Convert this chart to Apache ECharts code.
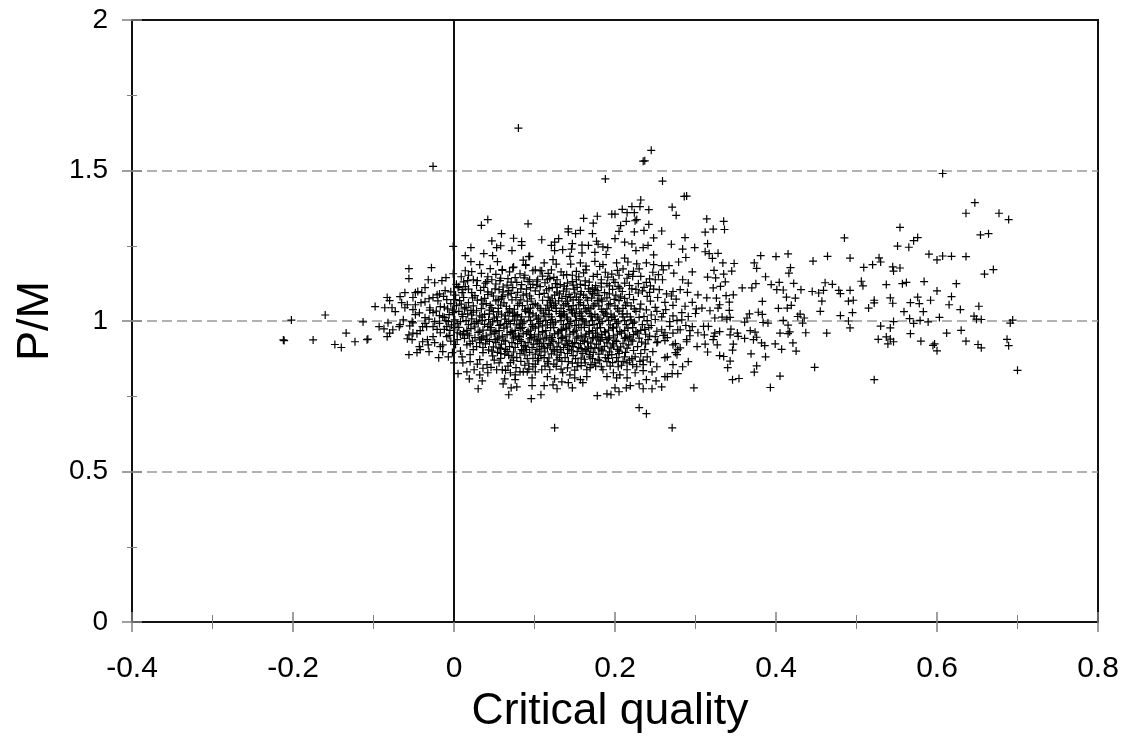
<!DOCTYPE html>
<html>
<head>
<meta charset="utf-8">
<title>P/M vs critical quality</title>
<script src="https://cdn.jsdelivr.net/npm/echarts@6/dist/echarts.min.js"></script>
<style>
    html, body {margin: 0; padding: 0; background: #fff;}
    #chart {width: 1122px; height: 742px;}
</style>
</head>
<body>
<div id="chart"></div>
<script>
// values: [critical quality, P/M]
const leftWing = [[-.212,.937],[-.211,.935],[-.202,1.003],[-.175,.937],[-.16,1.02],[-.148,.922],[-.14,.912],[-.134,.96],[-.123,.931],[-.113,.997],[-.108,.938],[-.107,.94],[-.098,1.048],[-.093,.981],[-.087,.974],[-.086,1.044],[-.083,1.078],[-.083,.948],[-.082,.994],[-.08,1.068],[-.08,.96],[-.077,1.044],[-.076,.971],[-.073,1.031],[-.068,.981],[-.067,1.081],[-.067,.988],[-.065,1.061],[-.063,1.004],[-.061,1.094],[-.061,1.044],[-.058,1.054],[-.058,.941],[-.056,1.174],[-.056,1.141],[-.056,.954],[-.056,.888],[-.055,.984],[-.052,.998],[-.052,.938],[-.051,1.078],[-.051,1.038],[-.051,.994],[-.051,.96],[-.048,1.094],[-.048,1.054],[-.048,1.021],[-.046,.958],[-.046,.895],[-.045,1.098],[-.043,.915],[-.042,.905],[-.04,1.094],[-.039,.981],[-.039,.931],[-.036,1.111],[-.036,1.064],[-.036,1.011],[-.034,.981],[-.032,1.137],[-.032,.921],[-.031,.898],[-.03,1.044],[-.028,1.177],[-.026,1.514],[-.026,1.078],[-.026,1.028],[-.026,.981],[-.026,.948],[-.024,1.127],[-.024,.998],[-.024,.928],[-.021,1.087],[-.019,.878],[-.017,1.048],[-.017,.961],[-.017,.915],[-.015,1.134],[-.014,1.014],[-.014,.921],[-.014,.898],[-.011,1.101],[-.01,1.144],[-.009,1.071],[-.009,.981],[-.009,.948],[-.007,.998],[-.007,.881],[-.002,.895],[-.001,1.248],[-.001,1.157],[-.001,1.028],[.001,1.071],[0,.861],[.004,.961],[.004,.938],[.005,.825]];
const lowerEdge = [[.125,.645],[.271,.645],[.23,.712],[.239,.692],[.03,.775],[.068,.755],[.096,.742],[.108,.755],[.178,.752],[.19,.758],[.195,.755],[.298,.778],[.246,.775],[.235,.775],[.258,.781],[.23,.791],[.219,.785],[.214,.778],[.2,.778],[.205,.765],[.202,.811],[.215,.811],[.239,.805],[.251,.801],[.265,.815],[.19,.815],[.198,.828],[.165,.815],[.16,.795],[.147,.778],[.128,.775],[.123,.788],[.112,.785],[.097,.785],[.078,.781],[.071,.778],[.061,.791],[.142,.795],[.134,.798],[.125,.808],[.15,.811],[.157,.805],[.097,.811],[.076,.805],[.063,.808],[.035,.801],[.019,.808],[.032,.821],[.011,.861],[.02,.865],[.016,.831],[.025,.838],[.042,.828],[.041,.855],[.053,.838],[.076,.821],[.082,.831],[.07,.828],[.091,.831],[.101,.831],[.116,.815],[.278,.825],[.271,.825],[.262,.815],[.252,.848],[.246,.831],[.235,.835],[.225,.828],[.215,.838],[.206,.821],[.185,.838],[.165,.838],[.154,.861],[.144,.821],[.135,.828],[.119,.838],[.109,.838],[.098,.848],[.086,.831],[.06,.838],[.222,.855],[.235,.855],[.272,.855],[.291,.865],[.284,.848],[.262,.878],[.281,.911],[.275,.895],[.289,.931],[.293,.951],[.302,.915],[.275,.925],[.247,.898],[.252,.928],[.24,.881],[.215,.861],[.202,.878],[.19,.865],[.179,.871],[.169,.881],[.142,.865],[.128,.871],[.116,.865],[.278,.905],[.277,.888],[.272,.921],[.289,.938],[.303,.961],[.296,.981],[.278,.971],[.268,.998],[.262,.961],[.265,.945],[.253,.931],[.258,.971],[.25,.948],[.241,.938],[.237,.905],[.225,.881],[.265,.881],[.212,.881],[.175,.861],[.163,.861],[.153,.848],[.204,.848],[.281,.971],[.032,.928],[.036,.895],[.02,.888],[.01,.881],[.011,.954],[.016,.921]];
const upperEdge = [[.08,1.641],[.245,1.567],[.235,1.531],[.237,1.532],[.188,1.472],[.259,1.465],[.286,1.414],[.289,1.415],[.232,1.402],[.271,1.378],[.276,1.351],[.221,1.38],[.231,1.38],[.209,1.371],[.215,1.36],[.224,1.36],[.242,1.37],[.161,1.341],[.178,1.348],[.196,1.355],[.2,1.355],[.173,1.325],[.092,1.323],[.214,1.331],[.225,1.333],[.227,1.337],[.207,1.317],[.242,1.321],[.142,1.306],[.142,1.296],[.157,1.301],[.151,1.29],[.172,1.29],[.205,1.298],[.224,1.296],[.236,1.301],[.258,1.299],[.059,1.29],[.074,1.275],[.084,1.264],[.084,1.251],[.072,1.234],[.109,1.27],[.13,1.274],[.125,1.262],[.121,1.251],[.125,1.234],[.135,1.237],[.146,1.239],[.147,1.257],[.159,1.252],[.167,1.251],[.177,1.265],[.179,1.255],[.185,1.246],[.191,1.244],[.2,1.274],[.212,1.262],[.221,1.256],[.248,1.276],[.287,1.277],[.27,1.255],[.284,1.239],[.299,1.244],[.241,1.251],[.235,1.244],[.226,1.234],[.248,1.22],[.288,1.211],[.279,1.196],[.296,1.163],[.159,1.226],[.175,1.228],[.189,1.221],[.212,1.209],[.144,1.215],[.094,1.215],[.086,1.202],[.112,1.193],[.123,1.204],[.127,1.189],[.145,1.189],[.157,1.193],[.164,1.182],[.175,1.198],[.185,1.187],[.202,1.193],[.216,1.196],[.227,1.19],[.239,1.193],[.248,1.187],[.258,1.184],[.267,1.184],[.089,1.185],[.074,1.179],[.06,1.168],[.101,1.17],[.109,1.167],[.121,1.17],[.136,1.152],[.152,1.165],[.164,1.17],[.181,1.181],[.196,1.156],[.21,1.173],[.223,1.165],[.23,1.173],[.247,1.162],[.26,1.17],[.273,1.159],[.284,1.137],[.291,1.126],[.254,1.154],[.259,1.137],[.25,1.137],[.239,1.128],[.229,1.124],[.205,1.152],[.183,1.137],[.198,1.137],[.212,1.126],[.204,1.115],[.272,1.098],[.281,1.104],[.29,1.095],[.303,1.087],[.255,1.104],[.243,1.095],[.276,1.073],[.262,1.062],[.229,1.093],[.296,1.062],[.287,1.049],[.301,1.04],[.252,1.032],[.236,1.015],[.291,1.015],[.277,1.002],[.283,1.004],[.239,1.037],[.223,1.071],[.042,1.337],[.034,1.318],[.021,1.244],[.047,1.266],[.053,1.244],[.058,1.25],[.037,1.224],[.048,1.217],[.014,1.217],[.054,1.197],[.021,1.197],[.032,1.187],[.045,1.174],[.06,1.171],[.073,1.177],[.093,1.214],[.089,1.187],[.014,1.167],[.022,1.164],[.009,1.147],[.042,1.147],[.017,1.134],[.029,1.134],[.041,1.131],[.047,1.137],[.057,1.134],[.067,1.141],[.076,1.144],[.094,1.137],[.104,1.137],[.116,1.137],[.128,1.137],[.14,1.154],[.098,1.167],[.107,1.167],[.082,1.157],[.006,1.114],[.011,1.104],[.005,1.111],[.014,1.114],[.01,1.094],[.022,1.094],[.042,1.097],[.051,1.107],[.061,1.097],[.073,1.111],[.084,1.121],[.092,1.131],[.107,1.114],[.122,1.111],[.132,1.121],[.14,1.107]];
const rightWing = [[.607,1.49],[.647,1.393],[.636,1.358],[.677,1.358],[.689,1.337],[.654,1.286],[.664,1.29],[.659,1.156],[.67,1.171],[.554,1.311],[.576,1.277],[.571,1.267],[.551,1.249],[.565,1.245],[.485,1.276],[.59,1.222],[.6,1.203],[.607,1.216],[.618,1.215],[.636,1.214],[.528,1.21],[.53,1.196],[.52,1.187],[.509,1.178],[.545,1.18],[.554,1.176],[.546,1.166],[.492,1.209],[.464,1.215],[.446,1.199],[.415,1.223],[.4,1.214],[.381,1.217],[.373,1.193],[.376,1.175],[.418,1.177],[.416,1.159],[.387,1.147],[.314,1.339],[.335,1.331],[.312,1.295],[.322,1.305],[.336,1.304],[.315,1.257],[.312,1.23],[.317,1.224],[.328,1.225],[.321,1.208],[.334,1.193],[.348,1.191],[.323,1.168],[.345,1.166],[.335,1.156],[.315,1.146],[.325,1.143],[.337,1.13],[.331,1.115],[.322,1.11],[.358,1.11],[.37,1.11],[.375,1.124],[.394,1.121],[.404,1.128],[.401,1.104],[.409,1.103],[.422,1.125],[.431,1.104],[.445,1.098],[.453,1.093],[.459,1.102],[.461,1.127],[.47,1.122],[.478,1.102],[.48,1.091],[.492,1.102],[.506,1.132],[.508,1.117],[.537,1.121],[.557,1.124],[.562,1.128],[.584,1.131],[.624,1.124],[.6,1.1],[.618,1.081],[.615,1.054],[.629,1.038],[.592,1.069],[.576,1.079],[.567,1.061],[.578,1.058],[.542,1.077],[.545,1.059],[.522,1.069],[.522,1.06],[.515,1.043],[.559,1.031],[.583,1.031],[.495,1.028],[.48,1.018],[.455,1.032],[.457,1.066],[.49,1.066],[.496,1.069],[.413,1.079],[.424,1.076],[.383,1.065],[.403,1.042],[.414,1.043],[.419,1.052],[.347,1.087],[.338,1.084],[.326,1.076],[.314,1.077],[.342,1.063],[.33,1.054],[.328,1.043],[.318,1.034],[.342,1.035],[.308,1.043],[.367,1.024],[.378,1.029],[.383,1.022],[.364,1.01],[.361,.996],[.333,1.013],[.324,1.01],[.339,1.006],[.343,1.012],[.409,1.002],[.384,.995],[.39,.993],[.43,1.023],[.427,1.015],[.435,1.01],[.433,.993],[.415,.986],[.49,1],[.492,.977],[.53,.983],[.542,.977],[.546,.998],[.566,1.008],[.571,.992],[.579,1.002],[.589,.997],[.603,1.012],[.646,1.016],[.649,1.006],[.655,1.005],[.652,1.049],[.694,1.003],[.691,.993],[.567,.958],[.58,.933],[.612,.96],[.63,.969],[.636,.933],[.597,.924],[.595,.919],[.6,.901],[.651,.922],[.655,.911],[.687,.939],[.689,.918],[.7,.836],[.527,.939],[.537,.947],[.542,.94],[.546,.931],[.539,.924],[.522,.805],[.463,.96],[.448,.846],[.437,.961],[.417,.964],[.405,.96],[.415,.958],[.421,.927],[.425,.9],[.399,.924],[.407,.906],[.387,.881],[.386,.918],[.382,.927],[.369,.891],[.376,.851],[.373,.83],[.405,.817],[.393,.779],[.354,.809],[.346,.805],[.34,.845],[.343,.867],[.33,.885],[.335,.882],[.346,.903],[.347,.923],[.327,.921],[.312,.923],[.315,.897],[.322,.938],[.324,.96],[.33,.965],[.343,.954],[.344,.973],[.352,.96],[.353,.949],[.361,.942],[.368,.968],[.374,.963],[.376,.946],[.372,.938],[.31,.982],[.316,.982],[.311,.954],[.323,.949]];
const denseCore = [
[.003,1.122],[.028,1.118],[.039,1.126],[.066,1.119],[.078,1.128],[.098,1.122],[.113,1.127],[.126,1.124],[.147,1.131],[.157,1.122],[.168,1.129],[.176,1.118],[.19,1.124],[.218,1.118],[.236,1.112],
[-.018,1.09],[-.004,1.097],[.018,1.106],[.033,1.102],[.047,1.093],[.056,1.104],[.068,1.101],[.079,1.095],[.09,1.106],[.101,1.1],[.115,1.103],[.128,1.096],[.136,1.099],[.149,1.106],[.158,1.098],[.167,1.107],[.178,1.101],[.187,1.094],[.197,1.105],[.209,1.098],[.221,1.107],[.234,1.1],[.248,1.106],[.264,1.09],
[-.031,1.074],[-.013,1.082],[.002,1.086],[.012,1.078],[.026,1.084],[.038,1.075],[.049,1.083],[.059,1.076],[.067,1.087],[.077,1.078],[.086,1.086],[.096,1.074],[.106,1.088],[.117,1.079],[.125,1.086],[.134,1.075],[.143,1.088],[.152,1.079],[.161,1.086],[.171,1.076],[.18,1.085],[.19,1.077],[.201,1.086],[.212,1.075],[.24,1.082],[.253,1.078],[.27,1.083],
[-.041,1.061],[-.02,1.067],[-.004,1.058],[.007,1.068],[.018,1.061],[.029,1.069],[.04,1.058],[.052,1.067],[.062,1.06],[.072,1.07],[.081,1.059],[.091,1.066],[.101,1.057],[.11,1.069],[.12,1.06],[.13,1.067],[.139,1.058],[.148,1.07],[.157,1.061],[.166,1.069],[.175,1.057],[.184,1.066],[.194,1.058],[.205,1.068],[.215,1.06],[.232,1.056],[.244,1.066],[.272,1.052],
[-.03,1.036],[-.012,1.046],[.003,1.051],[.013,1.04],[.024,1.05],[.034,1.041],[.045,1.052],[.055,1.042],[.065,1.049],[.075,1.039],[.085,1.051],[.095,1.043],[.104,1.05],[.114,1.04],[.124,1.052],[.133,1.042],[.142,1.049],[.152,1.04],[.161,1.052],[.17,1.041],[.18,1.05],[.19,1.04],[.2,1.05],[.21,1.042],[.22,1.05],[.231,1.04],[.25,1.045],[.263,1.038],[.283,1.028],
[-.043,1.027],[-.022,1.033],[-.006,1.021],[.006,1.032],[.017,1.024],[.028,1.034],[.038,1.022],[.049,1.031],[.059,1.023],[.069,1.033],[.079,1.021],[.089,1.032],[.098,1.024],[.108,1.034],[.118,1.022],[.127,1.032],[.137,1.023],[.146,1.034],[.156,1.025],[.165,1.033],[.175,1.022],[.185,1.031],[.195,1.023],[.205,1.033],[.215,1.024],[.226,1.032],[.245,1.02],[.26,1.025],[.272,1.017],[.3,1.025],
[-.031,1.006],[-.012,1.012],[.001,1.004],[.011,1.015],[.022,1.007],[.032,1.017],[.043,1.005],[.053,1.014],[.063,1.006],[.073,1.016],[.083,1.004],[.093,1.014],[.103,1.006],[.112,1.016],[.122,1.005],[.132,1.015],[.141,1.006],[.151,1.016],[.16,1.004],[.17,1.015],[.18,1.006],[.19,1.015],[.2,1.005],[.21,1.014],[.22,1.004],[.23,1.012],[.25,1.005],[.258,1.014],
[-.018,.992],[-.003,.987],[.008,.998],[.018,.988],[.028,.999],[.038,.989],[.048,.997],[.058,.988],[.068,.999],[.078,.987],[.087,.997],[.097,.988],[.107,.998],[.116,.987],[.126,.996],[.136,.988],[.145,.998],[.155,.987],[.164,.997],[.174,.988],[.184,.998],[.194,.987],[.204,.997],[.214,.988],[.224,.996],[.234,.988],[.245,.985],[.268,.982],[.288,.985],
[-.042,.968],[-.021,.972],[-.005,.969],[.006,.979],[.016,.969],[.026,.98],[.036,.97],[.046,.978],[.056,.968],[.066,.98],[.076,.969],[.085,.979],[.095,.97],[.105,.98],[.114,.968],[.124,.978],[.133,.969],[.143,.98],[.152,.97],[.162,.979],[.172,.968],[.182,.978],[.192,.97],[.202,.98],[.212,.969],[.222,.978],[.232,.969],[.242,.978],[.252,.966],[.272,.96],[.293,.968],
[.008,.957],[.019,.951],[.03,.962],[.04,.951],[.05,.96],[.06,.95],[.07,.962],[.08,.951],[.09,.96],[.1,.95],[.11,.961],[.119,.951],[.129,.96],[.139,.95],[.148,.961],[.158,.951],[.168,.96],[.178,.95],[.188,.961],[.198,.951],[.208,.96],[.218,.95],[.228,.96],[.238,.956],[.26,.952],
[-.033,.938],[-.004,.933],[.013,.942],[.023,.933],[.034,.943],[.044,.932],[.054,.941],[.064,.933],[.074,.943],[.084,.932],[.094,.941],[.104,.933],[.113,.943],[.123,.932],[.133,.942],[.143,.933],[.152,.943],[.162,.932],[.172,.941],[.182,.933],[.192,.943],[.202,.932],[.212,.942],[.222,.933],[.23,.943],[.262,.935],
[.002,.922],[.028,.915],[.039,.924],[.049,.914],[.059,.923],[.069,.915],[.079,.925],[.089,.914],[.099,.923],[.109,.916],[.118,.925],[.128,.914],[.138,.923],[.148,.915],[.157,.925],[.167,.914],[.177,.923],[.187,.916],[.197,.924],[.207,.914],[.217,.921],[.228,.915],[.238,.924],
[.008,.9],[.024,.905],[.043,.904],[.054,.896],[.064,.906],[.074,.897],[.084,.905],[.094,.896],[.103,.906],[.113,.897],[.123,.905],[.133,.896],[.143,.906],[.153,.898],[.163,.905],[.173,.896],[.183,.904],[.193,.897],[.203,.906],[.213,.896],[.223,.902],[.232,.892],
[.048,.884],[.058,.876],[.068,.886],[.078,.878],[.088,.887],[.098,.876],[.108,.885],[.118,.877],[.128,.887],[.138,.878],[.148,.885],[.158,.877],[.168,.888],[.188,.878],[.196,.888],[.218,.87],
[.032,.872],[.07,.862],[.083,.866],[.093,.858],[.104,.868],[.124,.857],[.134,.866],[.147,.86],[.162,.873],[.176,.85],[.194,.85],[.231,.866],
[.015,1.045],[.044,1.036],[.067,1.028],[.092,1.041],[.118,1.035],[.147,1.027],[.171,1.016],[.196,1.011],[.03,.993],[.056,.985],[.083,.975],[.11,.984],[.14,.975],[.168,.985],[.198,.976],[.026,.945],[.051,.938],[.081,.948],[.107,.94],[.135,.944],[.163,.947],[.19,.938],[.215,.945],[.058,.909],[.087,.918],[.112,.91],[.141,.918],[.17,.909],[.198,.917],[.022,1.02],[.05,1.01],[.077,1.018],[.105,1.01],[.134,1.019],[.158,1.008],[.186,1.02],[.034,1.07],[.06,1.082],[.09,1.09],[.119,1.068],[.145,1.078],[.172,1.092],[.199,1.072]
];
// second pass over the darkest part of the cloud
const darkCore = [
[.061,1.113],[.103,1.119],[.118,1.108],[.137,1.116],[.153,1.112],[.163,1.118],[.172,1.11],[.183,1.113],[.193,1.117],[.206,1.109],
[.023,1.077],[.042,1.088],[.055,1.071],[.071,1.092],[.083,1.07],[.094,1.083],[.112,1.092],[.122,1.074],[.131,1.09],[.141,1.066],[.15,1.093],[.155,1.07],[.164,1.078],[.174,1.09],[.183,1.073],[.193,1.09],[.207,1.08],[.218,1.088],
[-.008,1.04],[.009,1.056],[.021,1.035],[.036,1.056],[.047,1.044],[.058,1.053],[.069,1.041],[.079,1.052],[.088,1.037],[.098,1.055],[.107,1.042],[.116,1.053],[.127,1.042],[.136,1.053],[.144,1.038],[.155,1.054],[.163,1.04],[.173,1.05],[.183,1.039],[.192,1.054],[.203,1.041],[.213,1.052],[.224,1.04],
[-.018,1.018],[-.002,1.036],[.01,1.022],[.024,1.029],[.035,1.013],[.044,1.024],[.055,1.03],[.064,1.017],[.073,1.026],[.084,1.014],[.094,1.028],[.102,1.017],[.111,1.026],[.121,1.014],[.131,1.025],[.14,1.013],[.15,1.024],[.159,1.016],[.168,1.025],[.178,1.013],[.188,1.026],[.199,1.016],[.209,1.024],[.219,1.014],
[-.036,.992],[-.01,1.001],[.004,.992],[.015,1.001],[.025,.992],[.035,1.002],[.045,.99],[.054,1.001],[.065,.992],[.075,1.003],[.085,.991],[.095,1.002],[.105,.991],[.114,1.002],[.123,.99],[.133,1.001],[.143,.991],[.152,1.002],[.162,.99],[.172,1.001],[.181,.992],[.192,1.002],[.202,.991],[.212,1.001],[.222,.992],[.24,1.001],
[-.012,.972],[.001,.978],[.012,.965],[.021,.975],[.032,.966],[.042,.982],[.052,.965],[.062,.976],[.072,.965],[.082,.978],[.092,.965],[.101,.976],[.11,.965],[.12,.978],[.13,.964],[.139,.976],[.149,.965],[.158,.978],[.168,.965],[.178,.976],[.187,.965],[.197,.978],[.206,.965],[.216,.976],[.226,.965],[.237,.972],
[-.006,.952],[.017,.957],[.036,.947],[.046,.956],[.056,.946],[.066,.955],[.076,.947],[.086,.957],[.096,.945],[.105,.956],[.115,.946],[.125,.957],[.134,.946],[.144,.956],[.154,.947],[.164,.956],[.173,.945],[.183,.955],[.193,.946],[.203,.956],[.213,.946],[.223,.955],[.243,.95],
[.02,.925],[.032,.937],[.041,.938],[.052,.929],[.062,.936],[.072,.928],[.082,.938],[.092,.928],[.102,.937],[.111,.926],[.121,.937],[.13,.927],[.14,.936],[.15,.928],[.16,.936],[.17,.926],[.18,.937],[.19,.927],[.2,.936],[.21,.926],[.22,.937],[.233,.93],
[.036,.912],[.047,.9],[.056,.911],[.066,.899],[.076,.912],[.086,.901],[.097,.912],[.106,.9],[.116,.911],[.125,.9],[.136,.912],[.146,.901],[.155,.912],[.165,.9],[.175,.911],[.185,.901],[.195,.911],[.205,.9],[.215,.91],
[.05,.87],[.063,.89],[.072,.88],[.082,.892],[.091,.875],[.101,.89],[.112,.878],[.121,.891],[.131,.878],[.141,.892],[.151,.875],[.16,.892],[.172,.875],[.18,.89],[.191,.887],[.205,.892],[.21,.865],
[.012,1.13],[.052,1.123],[.087,1.143],[.11,1.149],[.124,1.145],[.155,1.147],[.173,1.148],[.191,1.146],[.215,1.142],[.222,1.148]
];
// thin bands just above and below the dark part
const coreFringe = [
[.018,1.152],[.034,1.158],[.052,1.155],[.069,1.163],[.088,1.152],[.117,1.158],[.133,1.163],[.147,1.152],[.161,1.16],[.178,1.155],[.188,1.162],[.203,1.168],[.217,1.155],[.232,1.148],[.243,1.14],
[.024,1.137],[.037,1.112],[.058,1.142],[.071,1.129],[.083,1.107],[.103,1.132],[.119,1.141],[.141,1.126],[.152,1.137],[.163,1.133],[.183,1.126],[.2,1.128],[.226,1.105],[.244,1.117],
[.128,1.112],[.095,1.111],[.148,1.119],[.175,1.105],[.169,1.098],[.157,1.089],[.139,1.082],[.178,1.068],[.126,1.059],[.148,1.051],[.167,1.044],[.136,1.031],[.121,1.046],[.158,1.03],
[.029,.857],[.046,.846],[.056,.861],[.067,.85],[.077,.845],[.088,.853],[.101,.857],[.113,.85],[.127,.849],[.141,.844],[.158,.852],[.17,.855],[.183,.848],[.197,.862],[.208,.853],[.227,.848],
[.036,.843],[.064,.836],[.074,.868],[.093,.84],[.105,.875],[.117,.858],[.133,.84],[.15,.837],[.169,.845],[.181,.868],[.192,.876],[.204,.866],[.221,.875],[.235,.87],[.244,.864],
[.058,.892],[.09,.905],[.12,.92],[.106,.925],[.132,.905],[.147,.925],[.158,.908],[.18,.91],[.166,.93],[.184,.945],[.122,.945],[.095,.955],[.073,.957],[.134,.972],[.176,.96],[.15,.985],[.098,.982],[.12,.995],[.07,.991],[.045,.97],[.081,.99]
];

const xMin = -0.4, xMax = 0.8, xStep = 0.2;
const yMin = 0, yMax = 2, yStep = 0.5;
const xName = 'Critical quality';
const yName = 'P/M';

const points = [].concat(leftWing, lowerEdge, upperEdge, denseCore, darkCore, coreFringe, rightWing);

const font = '"Liberation Sans", Arial, sans-serif';
const tickGrey = '#808080';

// ticks straddle the axis in the original, so each axis is drawn twice: outward + inward
function makeAxis(extra, minor) {
    return Object.assign({
        type: 'value',
        axisLine: {show: false, onZero: false},
        splitLine: {show: false},
        axisTick: {show: true, length: 10, lineStyle: {color: tickGrey, width: 1.5}},
        minorTick: {show: true, splitNumber: 2, length: minor, lineStyle: {color: tickGrey, width: 1}}
    }, extra);
}

const chart = echarts.init(document.getElementById('chart'), null, {renderer: 'canvas'});

chart.setOption({
    animation: false,
    backgroundColor: '#fff',
    grid: {
        left: 132, right: 24, top: 20, bottom: 120,
        show: true,
        borderColor: '#111',
        borderWidth: 2
    },
    xAxis: [
        makeAxis({
            min: xMin, max: xMax, interval: xStep, position: 'bottom',
            name: xName, nameLocation: 'middle', nameGap: 67,
            nameTextStyle: {fontFamily: font, fontSize: 44.5, color: '#000', padding: [0, 10, 0, 0]},
            axisLabel: {margin: 32, fontFamily: font, fontSize: 30, color: '#000'}
        }, 7),
        makeAxis({
            min: xMin, max: xMax, interval: xStep, position: 'bottom',
            axisLabel: {show: false},
            axisTick: {show: true, inside: true, length: 10, lineStyle: {color: tickGrey, width: 1.5}}
        }, 7)
    ],
    yAxis: [
        makeAxis({
            min: yMin, max: yMax, interval: yStep, position: 'left',
            name: yName, nameLocation: 'middle', nameGap: 72,
            nameTextStyle: {fontFamily: font, fontSize: 45, color: '#000'},
            axisLabel: {margin: 24, fontFamily: font, fontSize: 28, color: '#000', padding: [6, 0, 0, 0]},
            splitLine: {
                show: true, showMinLine: false, showMaxLine: false,
                lineStyle: {color: '#999', width: 1.5, type: [10, 5]}
            }
        }, 5),
        makeAxis({
            min: yMin, max: yMax, interval: yStep, position: 'left',
            axisLabel: {show: false},
            axisTick: {show: true, inside: true, length: 10, lineStyle: {color: tickGrey, width: 1.5}}
        }, 5)
    ],
    series: [{
        type: 'scatter',
        data: points,
        symbol: 'path://M0 5H10M5 0V10',
        symbolSize: 8,
        itemStyle: {color: 'transparent', borderColor: '#000', borderWidth: 1.2, opacity: 1},
        silent: true,
        markLine: {
            silent: true,
            symbol: 'none',
            animation: false,
            label: {show: false},
            lineStyle: {color: '#111', width: 2, type: 'solid'},
            data: [{xAxis: 0}]
        }
    }]
});
</script>
</body>
</html>
